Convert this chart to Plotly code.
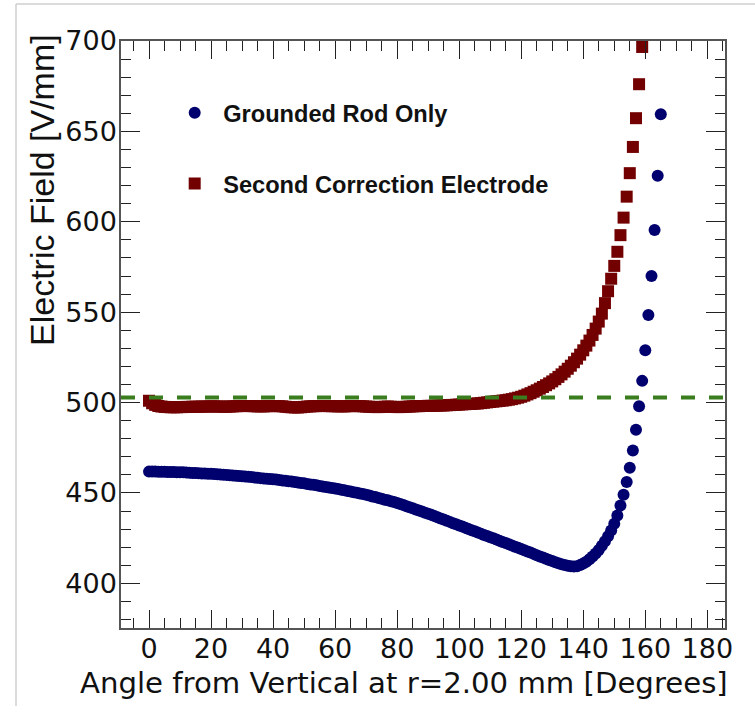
import plotly.graph_objects as go

# ---------------- data ----------------
angle_grounded = list(range(0, 166))
field_grounded = [
    461.8, 461.8, 461.8, 461.7, 461.7, 461.7, 461.6, 461.6, 461.6, 461.5,
    461.5, 461.4, 461.3, 461.2, 461.1, 461.0, 460.9, 460.8, 460.7, 460.6,
    460.6, 460.5, 460.3, 460.2, 460.1, 460.0, 459.8, 459.7, 459.5, 459.4,
    459.3, 459.1, 458.9, 458.8, 458.6, 458.4, 458.2, 458.0, 457.8, 457.7,
    457.6, 457.4, 457.1, 456.9, 456.7, 456.5, 456.3, 456.0, 455.8, 455.5,
    455.3, 455.0, 454.7, 454.5, 454.2, 453.9, 453.6, 453.3, 453.0, 452.8,
    452.5, 452.2, 451.8, 451.5, 451.1, 450.8, 450.4, 450.1, 449.7, 449.4,
    449.0, 448.6, 448.1, 447.7, 447.2, 446.8, 446.3, 445.9, 445.4, 445.0,
    444.5, 443.9, 443.3, 442.7, 442.1, 441.5, 440.9, 440.3, 439.7, 439.1,
    438.5, 437.9, 437.2, 436.6, 435.9, 435.3, 434.6, 434.0, 433.3, 432.7,
    432.0, 431.4, 430.7, 430.1, 429.4, 428.8, 428.1, 427.5, 426.8, 426.2,
    425.5, 424.9, 424.2, 423.6, 422.9, 422.3, 421.6, 421.0, 420.3, 419.7,
    419.0, 418.3, 417.6, 417.0, 416.3, 415.6, 414.9, 414.3, 413.6, 412.9,
    412.3, 411.7, 411.1, 410.6, 410.1, 409.7, 409.4, 409.3, 409.5, 410.1,
    411.0, 412.0, 413.3, 414.8, 416.5, 418.5, 420.8, 423.3, 426.0, 429.2,
    433.0, 437.5, 443.0, 449.0, 456.0, 464.0, 473.5, 485.0, 498.0, 512.0,
    529.0, 548.5, 570.0, 595.5, 625.5, 659.5,
]

angle_second = list(range(0, 160))
field_second = [
    501.0, 499.6, 498.7, 498.1, 497.8, 497.6, 497.5, 497.4, 497.4, 497.4,
    497.5, 497.5, 497.6, 497.6, 497.7, 497.7, 497.7, 497.8, 497.8, 497.8,
    497.9, 497.9, 497.8, 497.8, 497.7, 497.7, 497.8, 497.9, 498.0, 498.0,
    498.1, 498.1, 498.1, 498.0, 498.0, 497.9, 497.9, 497.9, 498.0, 498.0,
    498.1, 498.1, 498.0, 497.9, 497.7, 497.5, 497.4, 497.3, 497.3, 497.4,
    497.6, 497.8, 497.9, 498.0, 498.0, 498.1, 498.1, 498.1, 498.0, 498.0,
    498.0, 497.9, 497.9, 497.9, 498.0, 498.0, 498.1, 498.1, 498.0, 497.9,
    497.8, 497.7, 497.6, 497.5, 497.5, 497.6, 497.7, 497.8, 497.7, 497.6,
    497.5, 497.5, 497.6, 497.7, 497.8, 497.9, 498.0, 498.0, 498.1, 498.1,
    498.2, 498.2, 498.3, 498.3, 498.4, 498.4, 498.5, 498.6, 498.7, 498.8,
    498.9, 499.0, 499.1, 499.2, 499.3, 499.4, 499.5, 499.7, 499.9, 500.1,
    500.3, 500.5, 500.7, 500.9, 501.1, 501.3, 501.6, 501.9, 502.3, 502.7,
    503.2, 503.8, 504.5, 505.2, 506.0, 506.8, 507.7, 508.6, 509.6, 510.6,
    511.7, 512.9, 514.2, 515.6, 517.1, 518.7, 520.4, 522.3, 524.3, 526.5,
    528.9, 531.5, 534.3, 537.4, 540.9, 544.8, 549.2, 555.0, 561.6, 568.5,
    575.6, 583.4, 592.6, 602.3, 613.9, 626.9, 641.4, 657.3, 676.1, 696.7,
]

target_field = 502.8

series_names = ["Grounded Rod Only", "Second Correction Electrode"]
x_title = "Angle from Vertical at r=2.00 mm [Degrees]"
y_title = "Electric Field [V/mm]"
x_range = [-9.03, 185.7]
y_range = [375.3, 700]

# ---------------- figure ----------------
W, H = 755, 719
ML, MR, MT, MB = 121, 30, 41, 91
PW, PH = W - ML - MR, H - MT - MB


def px_x(px):
    return (px - ML) / PW


def px_y(py):
    return (H - MB - py) / PH


fig = go.Figure()

fig.add_trace(go.Scatter(
    x=angle_grounded, y=field_grounded, mode="markers", name=series_names[0],
    marker=dict(symbol="circle", size=12, color="#00006e", line=dict(width=0)),
    legendgroup="g1", cliponaxis=False,
))
fig.add_trace(go.Scatter(
    x=angle_second, y=field_second, mode="markers", name=series_names[1],
    marker=dict(symbol="square", size=12, color="#720000", line=dict(width=0)),
    legendgroup="g2", cliponaxis=False,
))

fig.add_hline(y=target_field, line=dict(color="#3a7d1e", width=4, dash="14px,14px"))

tick_font = dict(family="DejaVu Sans", size=27, color="#111")

fig.update_xaxes(
    range=x_range, showline=True, linecolor="#555", linewidth=1.5, mirror="ticks",
    ticks="inside", ticklen=18, tickwidth=1.3, tickcolor="#222",
    tick0=0, dtick=20, ticklabelstandoff=-4,
    minor=dict(dtick=5, ticklen=10, ticks="inside", tickcolor="#222", tickwidth=1.3),
    showgrid=False, zeroline=False, tickfont=tick_font,
)
fig.update_yaxes(
    range=y_range, showline=True, linecolor="#555", linewidth=1.5, mirror="ticks",
    ticks="inside", ticklen=19, tickwidth=1.3, tickcolor="#222",
    tick0=400, dtick=50, ticklabelstandoff=-3,
    minor=dict(dtick=10, ticklen=10, ticks="inside", tickcolor="#222", tickwidth=1.3),
    showgrid=False, zeroline=False, tickfont=tick_font,
)

annotations = [
    dict(text=x_title, xref="paper", yref="paper", x=px_x(403.5), y=px_y(683),
         xanchor="center", yanchor="middle", showarrow=False,
         font=dict(family="DejaVu Sans", size=29.2, color="#111")),
    dict(text=y_title, xref="paper", yref="paper", x=px_x(42), y=px_y(190),
         xanchor="center", yanchor="middle", showarrow=False, textangle=-90,
         font=dict(family="Liberation Sans", size=34, color="#111")),
]

shapes = [
    # light screenshot border / bottom strip
    dict(type="rect", xref="paper", yref="paper", x0=px_x(0), x1=px_x(W), y0=px_y(H), y1=px_y(706),
         fillcolor="#f3f3f3", line=dict(width=0), layer="below"),
    dict(type="line", xref="paper", yref="paper", x0=px_x(16), x1=px_x(W), y0=px_y(4), y1=px_y(4),
         line=dict(color="#cfcfcf", width=1.5)),
    dict(type="line", xref="paper", yref="paper", x0=px_x(16), x1=px_x(16), y0=px_y(4), y1=px_y(706),
         line=dict(color="#cfcfcf", width=1.5)),
]

fig.update_layout(
    width=W, height=H, autosize=False,
    margin=dict(l=ML, r=MR, t=MT, b=MB, pad=0),
    paper_bgcolor="white", plot_bgcolor="white",
    showlegend=True,
    legend=dict(
        x=px_x(166.2), y=px_y(91), xanchor="left", yanchor="top",
        bgcolor="rgba(0,0,0,0)", borderwidth=0,
        font=dict(family="Liberation Sans", size=23.6, color="#111", weight="bold"),
        traceorder="grouped", tracegroupgap=37, itemwidth=47,
    ),
    annotations=annotations,
    shapes=shapes,
)

fig.write_html(
    "out.html",
    config={"displayModeBar": False},
    post_script="document.body.style.margin='0';document.body.style.overflow='hidden';",
)
